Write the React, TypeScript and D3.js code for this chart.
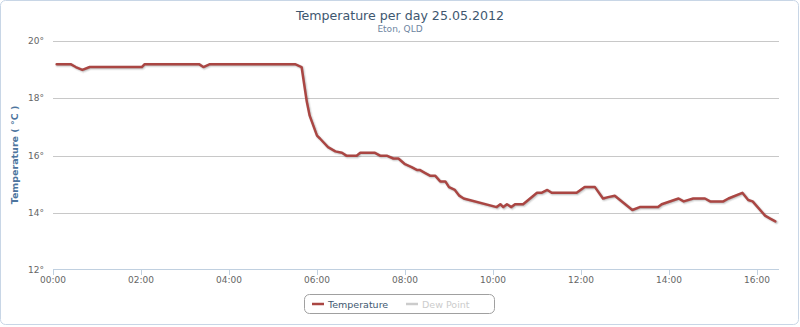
import React, { useEffect, useRef } from "react";
import * as d3 from "d3";

const times = [
  "00:05", "00:24", "00:31", "00:40", "00:50", "02:01", "02:05", "03:19", "03:25", "03:34",
  "05:30", "05:39", "05:46", "05:50", "06:00", "06:04", "06:15", "06:25", "06:34", "06:40",
  "06:54", "06:59", "07:19", "07:26", "07:35", "07:44", "07:51", "08:00", "08:09", "08:16",
  "08:20", "08:27", "08:34", "08:41", "08:48", "08:55", "09:00", "09:08", "09:14", "09:20",
  "10:05", "10:10", "10:14", "10:19", "10:25", "10:30", "10:41", "11:00", "11:06", "11:14",
  "11:20", "11:54", "12:05", "12:19", "12:30", "12:37", "12:46", "13:10", "13:20", "13:45",
  "13:50", "14:13", "14:20", "14:33", "14:49", "14:56", "15:14", "15:21", "15:40", "15:48",
  "15:54", "16:11", "16:18", "16:25",
];
const temperature = [
  19.2, 19.2, 19.1, 19.0, 19.1, 19.1, 19.2, 19.2, 19.1, 19.2,
  19.2, 19.1, 17.9, 17.4, 16.7, 16.6, 16.3, 16.15, 16.1, 16.0,
  16.0, 16.1, 16.1, 16.0, 16.0, 15.9, 15.9, 15.7, 15.6, 15.5,
  15.5, 15.4, 15.3, 15.3, 15.1, 15.1, 14.9, 14.8, 14.6, 14.5,
  14.2, 14.3, 14.2, 14.3, 14.2, 14.3, 14.3, 14.7, 14.7, 14.8,
  14.7, 14.7, 14.9, 14.9, 14.5, 14.55, 14.6, 14.1, 14.2, 14.2,
  14.3, 14.5, 14.4, 14.5, 14.5, 14.4, 14.4, 14.5, 14.7, 14.45,
  14.4, 13.9, 13.8, 13.7,
];
const xTicks = ["00:00", "02:00", "04:00", "06:00", "08:00", "10:00", "12:00", "14:00", "16:00"];
const yTicks = [12, 14, 16, 18, 20];
const seriesNames = ["Temperature", "Dew Point"];

const W = 800;
const H = 327;
const font = "'DejaVu Sans', sans-serif";

const toHours = (s: string) => {
  const [h, m] = s.split(":").map(Number);
  return h + m / 60;
};

export default function App() {
  const ref = useRef<SVGSVGElement>(null);

  useEffect(() => {
    const svg = d3.select(ref.current);
    svg.selectAll("*").remove();

    const x = d3.scaleLinear().domain([0, 16.5]).range([53, 779]);
    const y = d3.scaleLinear().domain([12, 20]).range([270, 41.3]);

    // chart border
    svg.append("rect")
      .attr("x", 0.5).attr("y", 0.5).attr("width", W - 2).attr("height", H - 3)
      .attr("rx", 5).attr("fill", "#fff").attr("stroke", "#c8d6e6");

    // gridlines
    svg.append("g").selectAll("line").data(yTicks.slice(1)).enter().append("line")
      .attr("x1", 53).attr("x2", 779)
      .attr("y1", (d) => Math.round(y(d)) + 0.5).attr("y2", (d) => Math.round(y(d)) + 0.5)
      .attr("stroke", "#c8c8c8");

    // x axis
    const xg = svg.append("g");
    xg.append("line").attr("x1", 53).attr("x2", 779).attr("y1", 269.5).attr("y2", 269.5).attr("stroke", "#c0d0e0");
    xg.selectAll("line.t").data(xTicks).enter().append("line").attr("class", "t")
      .attr("x1", (d) => Math.round(x(toHours(d))) + 0.5).attr("x2", (d) => Math.round(x(toHours(d))) + 0.5)
      .attr("y1", 270).attr("y2", 275).attr("stroke", "#c0d0e0");
    xg.selectAll("text").data(xTicks).enter().append("text")
      .attr("x", (d) => x(toHours(d))).attr("y", 283)
      .attr("text-anchor", "middle").attr("font-family", font).attr("font-size", 9)
      .attr("fill", "#666").text((d) => d);

    // y axis labels
    svg.append("g").selectAll("text").data(yTicks).enter().append("text")
      .attr("x", 44).attr("y", (d) => y(d) + 3)
      .attr("text-anchor", "end").attr("font-family", font).attr("font-size", 9)
      .attr("fill", "#666").text((d) => `${d}°`);

    svg.append("text")
      .attr("transform", "translate(18,155) rotate(-90)")
      .attr("text-anchor", "middle").attr("font-family", font).attr("font-size", 9.5)
      .attr("font-weight", "bold").attr("fill", "#4d759e").text("Temperature ( °C )");

    // titles
    svg.append("text").attr("x", 400).attr("y", 20).attr("text-anchor", "middle")
      .attr("font-family", font).attr("font-size", 12.6).attr("fill", "#3e576f")
      .text("Temperature per day 25.05.2012");
    svg.append("text").attr("x", 400).attr("y", 32).attr("text-anchor", "middle")
      .attr("font-family", font).attr("font-size", 9).attr("fill", "#6d869f")
      .text("Eton, QLD");

    // series
    const pts = times.map((t, i) => [toHours(t), temperature[i]] as [number, number]);
    const line = d3.line<[number, number]>().x((d) => x(d[0])).y((d) => y(d[1]));
    const shadow = svg.append("g").attr("transform", "translate(1,1)");
    [[5, 0.05], [3, 0.1], [1, 0.15]].forEach(([w, o]) => {
      shadow.append("path").attr("d", line(pts)).attr("fill", "none")
        .attr("stroke", "#000").attr("stroke-opacity", o).attr("stroke-width", w)
        .attr("stroke-linejoin", "round").attr("stroke-linecap", "round");
    });
    svg.append("path").attr("d", line(pts)).attr("fill", "none")
      .attr("stroke", "#aa4643").attr("stroke-width", 2.5)
      .attr("stroke-linejoin", "round").attr("stroke-linecap", "round");

    // legend
    const lg = svg.append("g");
    lg.append("rect").attr("x", 304.5).attr("y", 294.5).attr("width", 190).attr("height", 19)
      .attr("rx", 5).attr("fill", "none").attr("stroke", "#a0a0a0");
    const items = [
      { x: 312, color: "#aa4643", text: "#3e576f" },
      { x: 406, color: "#cccccc", text: "#cccccc" },
    ];
    items.forEach((it, i) => {
      lg.append("line").attr("x1", it.x).attr("x2", it.x + 12).attr("y1", 304).attr("y2", 304)
        .attr("stroke", it.color).attr("stroke-width", 2.5);
      lg.append("text").attr("x", it.x + 16).attr("y", 307.5)
        .attr("font-family", font).attr("font-size", 9.5).attr("fill", it.text)
        .text(seriesNames[i]);
    });
  }, []);

  return (
    <svg ref={ref} width={W} height={H} style={{ position: "absolute", left: 0, top: 0, display: "block" }} />
  );
}
